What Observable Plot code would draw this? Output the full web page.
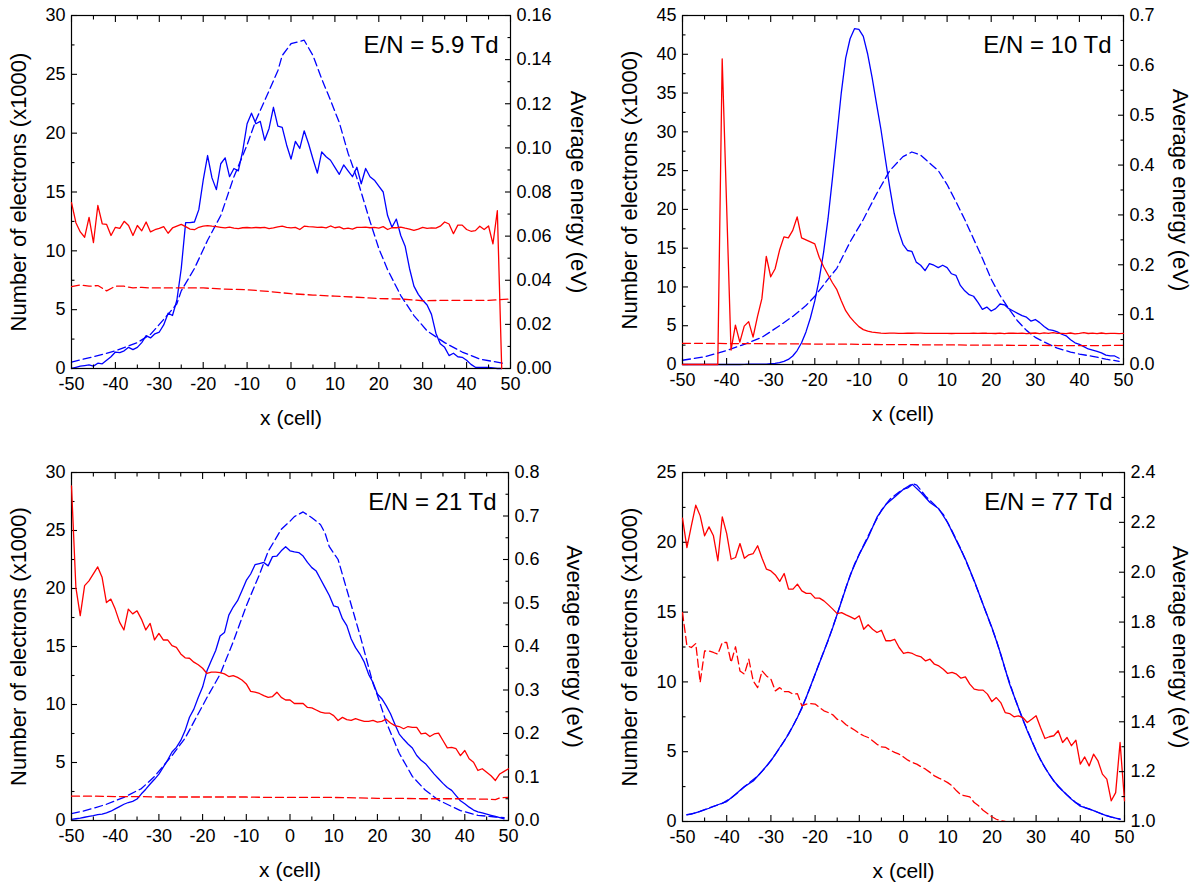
<!DOCTYPE html>
<html><head><meta charset="utf-8">
<script src="https://cdn.jsdelivr.net/npm/d3@7"></script>
<script src="https://cdn.jsdelivr.net/npm/@observablehq/plot@0.6"></script>
<style>
body{margin:0;background:#fff;width:1196px;height:885px;position:relative;overflow:hidden;font-family:"Liberation Sans",Arial,sans-serif;}
.panel{position:absolute;}
.panel svg{position:absolute;left:0;top:0;}
</style></head><body>
<div id="p1" class="panel"></div>
<div id="p2" class="panel"></div>
<div id="p3" class="panel"></div>
<div id="p4" class="panel"></div>
<script>
// ---------- tick labels ----------
const xMajor = [-50,-40,-30,-20,-10,0,10,20,30,40,50];
const xMinor = [-45,-35,-25,-15,-5,5,15,25,35,45];
const n30Major = [0,5,10,15,20,25,30];
const n30Minor = [2.5,7.5,12.5,17.5,22.5,27.5];
const n45Major = [0,5,10,15,20,25,30,35,40,45];
const n45Minor = [2.5,7.5,12.5,17.5,22.5,27.5,32.5,37.5,42.5];
const n25Major = [0,5,10,15,20,25];
const n25Minor = [2.5,7.5,12.5,17.5,22.5];
const e1Major = [0,0.02,0.04,0.06,0.08,0.10,0.12,0.14,0.16];
const e1Minor = [0.01,0.03,0.05,0.07,0.09,0.11,0.13,0.15];
const e2Major = [0,0.1,0.2,0.3,0.4,0.5,0.6,0.7];
const e2Minor = [0.05,0.15,0.25,0.35,0.45,0.55,0.65];
const e3Major = [0,0.1,0.2,0.3,0.4,0.5,0.6,0.7,0.8];
const e3Minor = [0.05,0.15,0.25,0.35,0.45,0.55,0.65,0.75];
const e4Major = [1.0,1.2,1.4,1.6,1.8,2.0,2.2,2.4];
const e4Minor = [1.1,1.3,1.5,1.7,1.9,2.1,2.3];
const panelLabels = ["E/N = 5.9 Td","E/N = 10 Td","E/N = 21 Td","E/N = 77 Td"];

// ---------- panel 1 (5.9 Td) ----------
// electrons (x1000), one value per cell starting at x = -50
const p1BlueSolid = [
 0.0,0.1,0.2,0.25,0.3,0.2,0.45,0.4,0.7,1.0,
 1.4,1.35,1.5,1.8,1.6,1.8,2.2,2.8,2.6,2.95,
 3.1,3.7,4.7,4.5,5.8,8.5,12.4,12.4,12.45,13.5,
 16.0,18.1,16.2,15.2,17.4,17.9,16.3,17.0,16.8,18.5,
 20.8,21.7,20.8,21.0,19.4,20.4,22.2,20.6,20.5,19.0,
 17.8,19.3,18.7,20.2,19.1,17.8,16.6,18.4,18.0,17.7,
 17.1,16.5,17.3,16.8,16.3,17.1,15.7,17.0,16.3,16.0,
 15.5,15.0,13.0,12.0,12.7,11.3,10.4,8.5,7.0,6.3,
 5.8,5.4,4.6,3.0,2.1,1.8,1.1,1.3,1.0,0.95,
 0.7,0.35,0.1,0.1,0.1,0.1,0.05,0.0,0.0];
// [cell, electrons]
const p1BlueDashed = [[-50,0.55],[-45,1.0],[-40,1.5],[-35,2.2],[-32,2.9],[-28,4.6],[-26,5.5],[-25,6.6],[-22,8.5],[-19,10.9],[-16,13.0],[-13,16.3],[-10,19.0],[-8,21.1],[-5,23.6],[-3,25.3],[-2,26.6],[0,27.6],[3,27.9],[5,26.6],[7,24.6],[9,22.8],[11,20.9],[13,18.3],[15,16.2],[18,12.5],[20,10.2],[22,8.4],[25,6.2],[28,4.5],[31,3.2],[35,2.2],[39,1.4],[43,0.8],[49,0.4]];
// average energy (eV), one value per cell starting at x = -50
const p1RedSolid = [
 0.0752,0.0661,0.0619,0.0595,0.0685,0.0571,0.0739,0.0656,0.0653,0.0603,
 0.0640,0.0635,0.0667,0.0648,0.0603,0.0648,0.0624,0.0664,0.0619,0.0629,
 0.0635,0.0643,0.0613,0.0637,0.0645,0.0653,0.0643,0.0632,0.0629,0.0640,
 0.0645,0.0648,0.0645,0.0643,0.0640,0.0637,0.0641,0.0636,0.0634,0.0638,
 0.0639,0.0637,0.0639,0.0638,0.0640,0.0634,0.0637,0.0642,0.0645,0.0640,
 0.0637,0.0640,0.0630,0.0645,0.0643,0.0642,0.0640,0.0641,0.0637,0.0646,
 0.0638,0.0642,0.0633,0.0636,0.0632,0.0640,0.0640,0.0641,0.0638,0.0640,
 0.0636,0.0643,0.0630,0.0638,0.0638,0.0641,0.0636,0.0632,0.0626,0.0632,
 0.0640,0.0635,0.0637,0.0636,0.0645,0.0664,0.0655,0.0611,0.0650,0.0650,
 0.0630,0.0622,0.0625,0.0645,0.0630,0.0646,0.0565,0.0715,0.0];
const p1RedDashed = [[-50,0.0371],[-48,0.0379],[-46,0.0373],[-44,0.0376],[-42,0.0352],[-40,0.0373],[-38,0.0373],[-36,0.0365],[-34,0.0368],[-32,0.0365],[-30,0.0365],[-25,0.0365],[-20,0.0365],[-15,0.0360],[-10,0.0357],[-5,0.0349],[0,0.0339],[5,0.0333],[10,0.0328],[15,0.0323],[20,0.0317],[25,0.0315],[30,0.0307],[35,0.0309],[40,0.0309],[45,0.0309],[50,0.0315]];

// ---------- panel 2 (10 Td) ----------
const p2BlueSolid = [
 0,0,0,0,0,0,0,0,0,0,
 0,0,0,0,0.02,0.03,0.04,0.05,0.05,0.06,
 0.1,0.15,0.25,0.4,0.65,1.1,1.8,2.8,4.2,6.0,
 8.2,11.0,14.5,18.8,24.0,29.5,35.0,39.5,42.0,43.3,
 43.2,42.3,40.0,37.0,33.6,30.3,26.5,22.8,19.5,17.2,
 15.5,14.7,14.6,13.2,12.8,12.1,13.0,12.8,12.5,12.8,
 12.5,11.7,11.5,10.2,9.5,9.0,8.8,8.0,7.1,7.4,
 6.9,7.2,7.8,7.7,7.2,6.9,6.6,6.3,6.1,5.6,
 5.8,5.4,4.9,4.5,4.4,4.2,3.9,3.7,3.2,2.8,
 2.6,2.3,2.0,1.85,1.7,1.5,1.2,1.1,1.1,0.8];
const p2BlueDashed = [[-50,0.55],[-45,1.0],[-40,1.8],[-36,2.6],[-32,3.5],[-28,5.0],[-25,6.2],[-22,7.6],[-20,8.8],[-17,11.0],[-15,12.4],[-12,15.8],[-9,18.7],[-6,22.0],[-3,25.0],[0,26.8],[2,27.4],[4,27.0],[6,26.0],[8,25.0],[10,23.2],[12,21.0],[14,18.7],[16,16.2],[18,13.7],[20,11.0],[22,8.9],[24,7.2],[26,5.6],[28,4.4],[30,3.5],[32,2.9],[35,2.1],[38,1.6],[40,1.35],[43,1.05],[46,0.7],[49,0.4]];
const p2RedSolid = [
 0,0,0,0,0,0,0,0,0,0.613,
 0.32,0.029,0.079,0.045,0.077,0.086,0.055,0.096,0.132,0.217,
 0.176,0.192,0.229,0.256,0.254,0.269,0.296,0.254,0.250,0.246,
 0.242,0.215,0.196,0.180,0.164,0.150,0.128,0.108,0.095,0.085,
 0.076,0.070,0.067,0.065,0.064,0.063,0.0625,0.0630,0.0628,0.0625,
 0.0626,0.0628,0.0627,0.0629,0.0628,0.0626,0.0624,0.0623,0.0624,0.0625,
 0.0624,0.0622,0.0623,0.0625,0.0624,0.0626,0.0628,0.0626,0.0631,0.0627,
 0.0625,0.0622,0.0630,0.0621,0.0629,0.0627,0.0623,0.0628,0.0620,0.0627,
 0.0632,0.0621,0.0635,0.0624,0.0640,0.0623,0.0625,0.0618,0.0632,0.0615,
 0.0626,0.0640,0.0622,0.0630,0.0620,0.0632,0.0618,0.0625,0.0623,0.0620,0.0625];
const p2RedDashed = [[-50,0.0425],[-45,0.0425],[-40,0.042],[-35,0.042],[-30,0.0415],[-25,0.0415],[-20,0.041],[-15,0.041],[-10,0.0405],[-5,0.040],[0,0.040],[5,0.0395],[10,0.0395],[15,0.039],[20,0.039],[25,0.0385],[30,0.0385],[35,0.038],[40,0.038],[45,0.038],[50,0.0385]];

// ---------- panel 3 (21 Td) ----------
const p3BlueSolid = [
 0.1,0.15,0.2,0.28,0.35,0.42,0.5,0.55,0.65,0.8,
 1.0,1.2,1.4,1.55,1.65,1.85,2.3,2.7,3.15,3.55,
 4.0,4.6,5.2,5.9,6.3,6.9,7.75,8.9,9.6,10.6,
 11.5,12.9,13.8,14.65,15.9,16.2,17.7,18.4,18.95,19.8,
 20.7,21.25,22.05,22.15,22.25,21.95,22.75,22.8,23.25,23.6,
 23.25,23.15,23.1,22.8,22.25,21.8,21.5,20.8,20.1,19.4,
 18.5,18.4,17.4,16.8,15.65,14.9,14.35,13.65,12.6,11.9,
 10.9,10.5,9.9,9.2,8.3,7.45,7.0,6.6,6.25,5.6,
 5.2,4.9,4.45,4.0,3.6,3.2,2.85,2.6,2.15,1.7,
 1.45,1.15,0.9,0.75,0.65,0.55,0.45,0.35,0.25,0.15];
const p3BlueDashed = [[-50,0.6],[-48,0.75],[-45,1.05],[-42,1.4],[-38,2.0],[-34,2.75],[-31,3.8],[-27,5.6],[-24,7.1],[-22,8.5],[-19,10.6],[-16,12.6],[-13,15.4],[-10,18.5],[-7,21.2],[-5,23.2],[-2,25.1],[0,25.8],[1,26.2],[3,26.6],[5,26.1],[7,25.5],[8,24.8],[9,23.6],[11,22.5],[14,18.6],[16,16.0],[19,11.8],[20,10.8],[22,8.5],[25,5.8],[28,3.8],[31,2.6],[34,1.75],[39,0.85],[43,0.45],[47,0.3],[49,0.25]];
const p3RedSolid = [
 0.769,0.536,0.471,0.540,0.551,0.567,0.583,0.559,0.501,0.509,
 0.486,0.456,0.438,0.486,0.475,0.482,0.463,0.438,0.453,0.415,
 0.430,0.415,0.415,0.402,0.398,0.383,0.374,0.373,0.364,0.358,
 0.350,0.338,0.341,0.341,0.340,0.337,0.331,0.333,0.329,0.323,
 0.314,0.297,0.295,0.292,0.287,0.283,0.285,0.295,0.283,0.277,
 0.277,0.269,0.269,0.269,0.260,0.259,0.254,0.249,0.247,0.247,
 0.241,0.230,0.237,0.232,0.230,0.234,0.231,0.228,0.228,0.230,
 0.226,0.228,0.233,0.224,0.218,0.216,0.211,0.216,0.214,0.214,
 0.199,0.201,0.193,0.199,0.201,0.184,0.167,0.168,0.165,0.149,
 0.161,0.142,0.134,0.115,0.119,0.111,0.103,0.092,0.107,0.113,0.119];
const p3RedDashed = [[-50,0.056],[-45,0.056],[-40,0.055],[-35,0.055],[-30,0.054],[-25,0.054],[-20,0.054],[-15,0.054],[-10,0.054],[-5,0.053],[0,0.053],[5,0.053],[10,0.053],[15,0.052],[20,0.051],[25,0.051],[30,0.050],[35,0.050],[40,0.050],[45,0.049],[47,0.048],[48,0.052],[50,0.053]];

// ---------- panel 4 (77 Td) ----------
const p4BlueSolid = [[-49,0.48],[-48,0.53],[-46,0.72],[-44,0.95],[-42,1.2],[-40,1.43],[-38,1.96],[-36,2.5],[-34,2.9],[-32,3.6],[-30,4.35],[-28,5.3],[-26,6.25],[-24,7.45],[-22,8.9],[-20,10.55],[-18,12.2],[-16,13.9],[-14,15.8],[-12,17.7],[-10,19.15],[-8,20.35],[-6,21.8],[-4,22.7],[-2,23.25],[0,23.8],[1,23.9],[2,24.15],[4,23.55],[6,22.85],[8,22.4],[10,21.4],[12,20.1],[14,18.8],[16,17.25],[18,15.55],[20,13.9],[22,12.0],[24,9.85],[26,8.15],[28,6.5],[30,5.05],[32,3.85],[34,2.9],[36,2.2],[38,1.6],[40,1.1],[42,0.9],[44,0.65],[46,0.4],[48,0.25],[49,0.15]];
const p4BlueDashed = [[-49,0.5],[-47,0.62],[-45,0.85],[-43,1.08],[-41,1.3],[-39,1.68],[-37,2.2],[-35,2.75],[-33,3.25],[-31,3.95],[-29,4.8],[-27,5.75],[-25,6.85],[-23,8.1],[-21,9.7],[-19,11.4],[-17,13.0],[-15,14.85],[-13,16.8],[-11,18.5],[-9,19.8],[-7,21.1],[-5,22.3],[-3,23.1],[-1,23.6],[1,24.0],[2,24.2],[3,24.1],[5,23.3],[7,22.7],[9,22.0],[11,20.8],[13,19.5],[15,18.0],[17,16.4],[19,14.7],[21,13.0],[23,10.9],[25,9.0],[27,7.3],[29,5.8],[31,4.4],[33,3.35],[35,2.5],[37,1.9],[39,1.35],[41,1.0],[43,0.78],[45,0.52],[47,0.32],[49,0.18]];
const p4RedSolid = [
 2.217,2.099,2.186,2.269,2.226,2.146,2.182,2.146,2.046,2.222,
 2.155,2.052,2.059,2.115,2.056,2.070,2.075,2.106,2.056,2.012,
 2.005,1.989,1.963,1.995,1.932,1.932,1.952,1.925,1.915,1.915,
 1.896,1.896,1.885,1.869,1.852,1.834,1.838,1.829,1.821,1.812,
 1.825,1.771,1.789,1.771,1.758,1.767,1.725,1.725,1.731,1.698,
 1.674,1.678,1.674,1.665,1.660,1.644,1.651,1.631,1.624,1.611,
 1.594,1.598,1.591,1.575,1.580,1.551,1.531,1.527,1.527,1.511,
 1.481,1.497,1.477,1.437,1.433,1.420,1.424,1.417,1.397,1.410,
 1.424,1.377,1.333,1.340,1.344,1.364,1.317,1.337,1.304,1.326,
 1.230,1.259,1.223,1.270,1.243,1.190,1.170,1.083,1.116,1.317,1.083];
const p4RedDashed = [
 1.838,1.705,1.698,1.714,1.558,1.684,1.684,1.678,1.671,1.718,
 1.718,1.638,1.701,1.604,1.591,1.651,1.564,1.537,1.604,1.584,
 1.571,1.524,1.537,1.521,1.521,1.511,1.513,1.464,1.471,1.473,
 1.471,1.457,1.444,1.437,1.428,1.410,1.404,1.388,1.377,1.366,
 1.353,1.344,1.337,1.324,1.310,1.299,1.297,1.286,1.277,1.270,
 1.259,1.246,1.237,1.230,1.219,1.210,1.197,1.183,1.174,1.166,
 1.156,1.143,1.123,1.107,1.103,1.099,1.076,1.063,1.045,1.032,
 1.019,1.009,1.003,1.000,0.990,0.975];

// ---------- drawing ----------
const BLUE = "#0000ff", RED = "#ff0000";
const perCell = vals => vals.map((v, i) => [-50 + i, v]);
const FONT = "font-family:'Liberation Sans',Arial,sans-serif;color:#000;overflow:visible;";

const panels = [
  {id:"p1", left:0, top:0, w:598, h:440, m:[15,88,72,71], yMax:30, yMaj:n30Major, yMin:n30Minor,
   eDom:[0,0.16], eMaj:e1Major, eMin:e1Minor, eDig:2, label:panelLabels[0], rTitle:68,
   bs:perCell(p1BlueSolid), bd:p1BlueDashed, rs:perCell(p1RedSolid), rd:p1RedDashed},
  {id:"p2", left:598, top:0, w:598, h:440, m:[15,73,76,84], yMax:45, yMaj:n45Major, yMin:n45Minor,
   eDom:[0,0.7], eMaj:e2Major, eMin:e2Minor, eDig:1, label:panelLabels[1], rTitle:57,
   bs:perCell(p2BlueSolid), bd:p2BlueDashed, rs:perCell(p2RedSolid), rd:p2RedDashed},
  {id:"p3", left:0, top:440, w:598, h:445, m:[32,90,65,71], yMax:30, yMaj:n30Major, yMin:n30Minor,
   eDom:[0,0.8], eMaj:e3Major, eMin:e3Minor, eDig:1, label:panelLabels[2], rTitle:66,
   bs:perCell(p3BlueSolid), bd:p3BlueDashed, rs:perCell(p3RedSolid), rd:p3RedDashed},
  {id:"p4", left:598, top:440, w:598, h:445, m:[32,72,64,84], yMax:25, yMaj:n25Major, yMin:n25Minor,
   eDom:[1.0,2.4], eMaj:e4Major, eMin:e4Minor, eDig:1, label:panelLabels[3], rTitle:56,
   bs:p4BlueSolid, bd:p4BlueDashed, rs:perCell(p4RedSolid), rd:perCell(p4RedDashed)}
];

const TW = 1.1, MAJ = 6, MIN = 3.5, LW = 1.3, DASH = "8,4", TICKFONT = 18;

function drawPanel(p) {
  const host = document.getElementById(p.id);
  host.style.left = p.left + "px";
  host.style.top = p.top + "px";
  host.style.width = p.w + "px";
  host.style.height = p.h + "px";
  const base = {width: p.w, height: p.h, marginTop: p.m[0], marginRight: p.m[1], marginBottom: p.m[2], marginLeft: p.m[3],
    x: {domain: [-50, 50], axis: null}};
  const fmtX = d => String(d);
  const left = Plot.plot({
    ...base,
    style: "background:white;" + FONT,
    y: {domain: [0, p.yMax], axis: null},
    marks: [
      Plot.line(p.bd, {stroke: BLUE, strokeWidth: LW, strokeDasharray: DASH}),
      Plot.line(p.bs, {stroke: BLUE, strokeWidth: LW}),
      // ticks (inward)
      Plot.axisX(xMajor, {anchor: "bottom", tickSize: MAJ, dy: -MAJ, fill: "none", label: null, color: "black", strokeWidth: TW}),
      Plot.axisX(xMinor, {anchor: "bottom", tickSize: MIN, dy: -MIN, fill: "none", label: null, color: "black", strokeWidth: TW}),
      Plot.axisX(xMajor, {anchor: "top", tickSize: MAJ, dy: MAJ, fill: "none", label: null, color: "black", strokeWidth: TW}),
      Plot.axisX(xMinor, {anchor: "top", tickSize: MIN, dy: MIN, fill: "none", label: null, color: "black", strokeWidth: TW}),
      Plot.axisY(p.yMaj, {anchor: "left", tickSize: MAJ, dx: MAJ, fill: "none", label: null, color: "black", strokeWidth: TW}),
      Plot.axisY(p.yMin, {anchor: "left", tickSize: MIN, dx: MIN, fill: "none", label: null, color: "black", strokeWidth: TW}),
      // tick labels
      Plot.axisX(xMajor, {anchor: "bottom", tickSize: 0, tickPadding: 9, tickFormat: fmtX, fontSize: TICKFONT, label: null, color: "black"}),
      Plot.axisY(p.yMaj, {anchor: "left", tickSize: 0, tickPadding: 6, tickFormat: fmtX, fontSize: TICKFONT, label: null, color: "black"}),
      Plot.frame({stroke: "black", strokeWidth: 1.2}),
      // titles
      Plot.text(["Number of electrons (x1000)"], {text: d => d, frameAnchor: "left", rotate: -90, dx: -53, textAnchor: "middle", lineAnchor: "middle", fontSize: 22, fill: "black"}),
      Plot.text(["x (cell)"], {text: d => d, frameAnchor: "bottom", dy: 50, lineAnchor: "middle", fontSize: 21, fill: "black"}),
      Plot.text([p.label], {text: d => d, frameAnchor: "top-right", dx: -12, dy: 30, lineAnchor: "middle", textAnchor: "end", fontSize: 24, fill: "black"})
    ]
  });
  const right = Plot.plot({
    ...base,
    style: "background:transparent;" + FONT,
    y: {domain: p.eDom, axis: null},
    marks: [
      Plot.line(p.rd, {stroke: RED, strokeWidth: LW, strokeDasharray: DASH, clip: true}),
      Plot.line(p.rs, {stroke: RED, strokeWidth: LW}),
      Plot.axisY(p.eMaj, {anchor: "right", tickSize: MAJ, dx: -MAJ, fill: "none", label: null, color: "black", strokeWidth: TW}),
      Plot.axisY(p.eMin, {anchor: "right", tickSize: MIN, dx: -MIN, fill: "none", label: null, color: "black", strokeWidth: TW}),
      Plot.axisY(p.eMaj, {anchor: "right", tickSize: 0, tickPadding: 6, tickFormat: d => d.toFixed(p.eDig), fontSize: TICKFONT, label: null, color: "black"}),
      Plot.text(["Average energy (eV)"], {text: d => d, frameAnchor: "right", rotate: 90, dx: p.rTitle, textAnchor: "middle", lineAnchor: "middle", fontSize: 22, fill: "black"})
    ]
  });
  host.append(left, right);
}
panels.forEach(drawPanel);
</script>
</body></html>
